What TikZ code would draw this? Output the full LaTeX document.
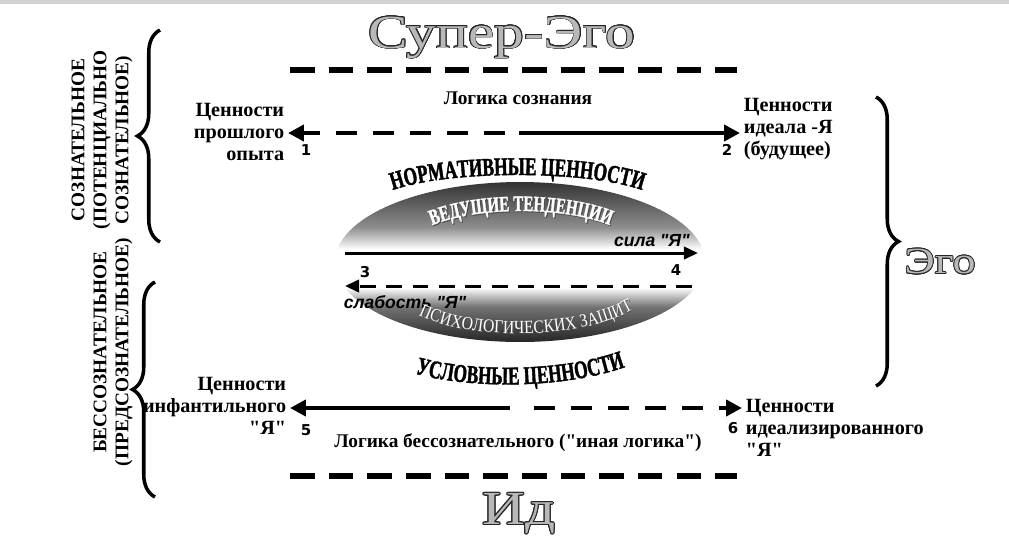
\documentclass[tikz,border=0pt]{standalone}
\usepackage{fontspec}
\setmainfont{Liberation Serif}[Ligatures=TeXOff]
\newfontfamily\archfont[FakeStretch=0.68, FakeBold=1.5]{Liberation Serif}
\newfontfamily\defensefont[FakeStretch=0.85]{Liberation Serif}
\newfontfamily\wideserif[FakeStretch=1.25]{Liberation Serif}
\newfontfamily\markfont{DejaVu Sans}
\newfontfamily\forcefont{Liberation Sans}
\usepackage{contour}
\contourlength{0.45pt}
\usetikzlibrary{arrows.meta, positioning, decorations.pathreplacing, decorations.text, shapes.geometric}

\newcommand{\hollow}[1]{\contour{black!85}{\textcolor{black!28}{#1}}}
\pgfdeclareverticalshading{coreshade}{100bp}{color(0bp)=(black!85); color(25bp)=(black!85);
  color(36bp)=(black!55); color(42bp)=(white); color(54bp)=(white); color(61bp)=(black!45);
  color(75bp)=(black!80); color(100bp)=(black!80)}

\begin{document}
\begin{tikzpicture}[
    x=0.02cm, y=-0.02cm,
    value/.style={font=\fontsize{11.5}{12.4}\selectfont\bfseries, inner sep=2pt},
    pastside/.style={value, align=right, anchor=east},
    futureside/.style={value, align=left, anchor=west},
    logic/.style={font=\fontsize{11}{13}\selectfont\bfseries},
    level/.style={font=\fontsize{11}{12.5}\selectfont\bfseries, rotate=90, align=center},
    title/.style={font=\wideserif\fontsize{27}{30}\selectfont},
    pointnum/.style={font=\markfont\bfseries\fontsize{8.5}{10}\selectfont, inner sep=0pt},
    force/.style={font=\forcefont\bfseries\itshape\fontsize{10}{11}\selectfont, inner sep=0pt},
    border/.style={line width=3.4pt, dash pattern=on 14pt off 8pt},
    solidarrow/.style={line width=2.6pt, -{Triangle[length=9pt, width=9pt]}},
    dasharrow/.style={solidarrow, dash pattern=on 12pt off 9pt},
    innerarrow/.style={line width=1.7pt, -{Triangle[length=8pt, width=7pt]}},
    bigbrace/.style={decorate, decoration={brace, amplitude=0.45cm}, line width=2pt},
]

\useasboundingbox (0,0) rectangle (1009,559);
\fill[white] (0,0) rectangle (1009,559);
\fill[blue!10!black!18] (0,0) rectangle (1009,4);

% Levels: Super-Ego, Ego, Id
\node[title] (superego) at (502,38) {\hollow{Супер-Эго}};
\node[title, font=\wideserif\fontsize{21}{24}\selectfont] (ego) at (940,262) {\hollow{Эго}};
\node[title] (id) at (519,514) {\hollow{Ид}};

\draw[border] (290,70) -- (737,70);
\draw[border] (290,476) -- (737,476);

% Side braces
\draw[bigbrace] (160,242) -- (160,30);
\draw[bigbrace] (155,497) -- (155,282);
\draw[bigbrace] (876,97) -- (876,386);

\node[level] (consc) at (102,140) {СОЗНАТЕЛЬНОЕ\\(ПОТЕНЦИАЛЬНО\\СОЗНАТЕЛЬНОЕ)};
\node[level] (unconsc) at (113,352) {БЕССОЗНАТЕЛЬНОЕ\\(ПРЕДСОЗНАТЕЛЬНОЕ)};

% Row 1: logic of consciousness
\node[logic] (conscious) at (518,98) {Логика сознания};
\node[pastside] (past) at (288,132) {Ценности\\прошлого\\опыта};
\node[futureside] (ideal) at (740,129) {Ценности\\идеала -Я\\(будущее)};
\coordinate (split1) at (512,133);
\draw[dasharrow, shorten <=4pt] (split1) -- (past.east |- split1);
\draw[solidarrow, shorten <=4pt] (split1) -- (ideal.west |- split1);
\node[pointnum] (p1) at (306,150) {1};
\node[pointnum] (p2) at (727,150) {2};

% Core: the shaded ellipse
\path[decorate, decoration={text along path, text align=center,
    text={|\archfont\fontsize{14.5}{16}\selectfont\bfseries|НОРМАТИВНЫЕ ЦЕННОСТИ}}]
    (393,190) .. controls (450,170) and (585,170) .. (642,190);
\node[ellipse, minimum width=7.4cm, minimum height=3.2cm, inner sep=0pt,
    shading=coreshade] (core) at (520,262) {};
\path[decorate, decoration={text along path, text align=center,
    text={|\archfont\fontsize{12.5}{14}\selectfont\bfseries\color{black!70}|ВЕДУЩИЕ ТЕНДЕНЦИИ}}]
    (425,230) .. controls (471,206) and (573,206) .. (619,230);
\path[decorate, decoration={text along path, text align=center,
    text={|\archfont\fontsize{12.5}{14}\selectfont\bfseries\color{white}|ВЕДУЩИЕ ТЕНДЕНЦИИ}}]
    (424,229) .. controls (470,205) and (572,205) .. (618,229);

\coordinate (strongL) at (345,253);
\coordinate (strongR) at (698,253);
\coordinate (weakR) at (692,286);
\coordinate (weakL) at (345,286);
\draw[innerarrow] (strongL) -- (strongR);
\draw[innerarrow, dash pattern=on 9pt off 6pt] (weakR) -- (weakL);
\node[force, anchor=south east] (strong) at (690,247) {сила "Я"};
\node[force] (weak) at (405,302) {слабость "Я"};
\node[pointnum] (p3) at (365,272) {3};
\node[pointnum] (p4) at (676,270) {4};

\path[decorate, decoration={text along path, text align=center,
    text={|\defensefont\fontsize{10.5}{12}\selectfont\color{black!70}|ПСИХОЛОГИЧЕСКИХ ЗАЩИТ}}]
    (413,313) .. controls (471,344) and (584,342) .. (641,307);
\path[decorate, decoration={text along path, text align=center,
    text={|\defensefont\fontsize{10.5}{12}\selectfont\color{white}|ПСИХОЛОГИЧЕСКИХ ЗАЩИТ}}]
    (412,312) .. controls (470,343) and (583,341) .. (640,306);

\path[decorate, decoration={text along path, text align=center,
    text={|\archfont\fontsize{14.5}{16}\selectfont\bfseries|УСЛОВНЫЕ ЦЕННОСТИ}}]
    (398,368) .. controls (460,392) and (580,390) .. (642,360);

% Row 2: logic of the unconscious
\node[pastside] (infant) at (290,406) {Ценности\\инфантильного\\"Я"};
\node[futureside] (idealized) at (742,428) {Ценности\\идеализированного\\"Я"};
\coordinate (split2) at (522,408);
\draw[solidarrow, shorten <=7pt] (split2) -- (infant.east |- split2);
\draw[dasharrow, shorten <=7pt] (split2) -- (idealized.west |- split2);
\node[pointnum] (p5) at (306,430) {5};
\node[pointnum] (p6) at (733,428) {6};
\node[logic] (unconscious) at (518,443) {Логика бессознательного ("иная логика")};

\end{tikzpicture}
\end{document}
